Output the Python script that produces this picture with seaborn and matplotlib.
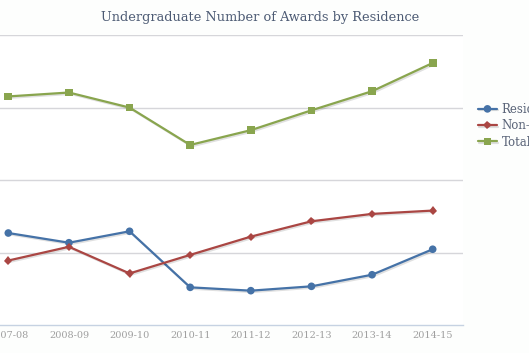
import pandas as pd
import matplotlib
matplotlib.use('Agg')
import matplotlib.pyplot as plt
import matplotlib.patheffects as pe
import seaborn as sns

# values (gridlines every 500, axis starts at 500)
years = ['2007-08', '2008-09', '2009-10', '2010-11', '2011-12', '2012-13', '2013-14', '2014-15']
residents = [1135, 1068, 1147, 760, 737, 767, 847, 1023]
non_residents = [945, 1040, 856, 984, 1110, 1216, 1267, 1290]
total = [2078, 2105, 2001, 1743, 1845, 1982, 2114, 2309]

series = ['Residents', 'Non-Residents', 'Total']
colors = {'Residents': '#4572A7', 'Non-Residents': '#AA4643', 'Total': '#89A54E'}
markers = {'Residents': 'o', 'Non-Residents': 'D', 'Total': 's'}

df = pd.DataFrame({
    'year': years * 3,
    'x': list(range(len(years))) * 3,
    'value': residents + non_residents + total,
    'series': ['Residents'] * 8 + ['Non-Residents'] * 8 + ['Total'] * 8,
})

sns.set_style('white')
plt.rcParams['font.family'] = ['DejaVu Serif']

W, H = 529, 353
fig = plt.figure(figsize=(W / 100, H / 100), dpi=100)
# plot area runs past the left edge, like the cropped original
left_px, right_px, top_px, bottom_px = -22, 463, 35.3, 325
ax = fig.add_axes([left_px / W, (H - bottom_px) / H,
                   (right_px - left_px) / W, (bottom_px - top_px) / H])

sns.lineplot(data=df, x='x', y='value', hue='series', style='series',
             hue_order=series, style_order=series, palette=colors,
             markers=markers, dashes=False, linewidth=1.6, markersize=5.5,
             markeredgewidth=0, ax=ax)
for line in ax.lines:
    if line.get_marker() == 'D':
        line.set_markersize(4.2)
    line.set_path_effects([pe.SimpleLineShadow(offset=(1, -1), alpha=0.12),
                           pe.Normal()])

ax.set_xlim(-0.5, 7.5)
ax.set_ylim(500, 2500)
ax.set_yticks([1000, 1500, 2000, 2500])
ax.set_yticklabels([])
ax.grid(axis='y', color='#d6d6da', linewidth=1)
ax.set_axisbelow(True)
for s in ['top', 'left', 'right']:
    ax.spines[s].set_visible(False)
ax.spines['bottom'].set_color('#c6d2e2')
ax.spines['bottom'].set_linewidth(1)
ax.tick_params(axis='y', length=0)

ax.set_xticks(range(len(years)))
ax.set_xticklabels(years, fontsize=7, color='#a0a0a0')
ax.set_xticks([i + 0.5 for i in range(len(years))], minor=True)
ax.tick_params(axis='x', which='major', length=0, pad=4)
ax.tick_params(axis='x', which='minor', length=4, color='#c6d2e2', width=1)
ax.set_xlabel('')
ax.set_ylabel('')

fig.text(260.5 / W, 1 - 17 / H, 'Undergraduate Number of Awards by Residence',
         ha='center', va='center', fontsize=9.3, color='#4d5b74')

handles, labels = ax.get_legend_handles_labels()
ax.get_legend().remove()
fig.legend(handles, labels, loc='upper left', bbox_to_anchor=(478 / W, 1 - 103 / H),
           frameon=False, fontsize=8.5, labelcolor='#5a6478', handlelength=1.6,
           handletextpad=0.4, labelspacing=0.28, borderaxespad=0, borderpad=0)

fig.savefig('out.png', dpi=100, facecolor='#fdfefd')
